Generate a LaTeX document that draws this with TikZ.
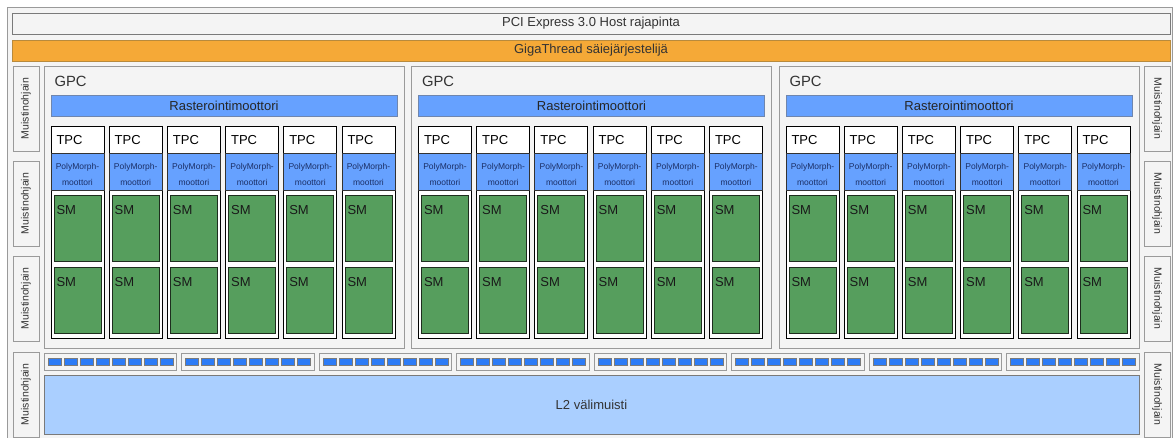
\documentclass[tikz,border=0pt]{standalone}
\usepackage{fontspec}
\setmainfont{Liberation Sans}
\definecolor{bggray}{HTML}{F4F4F4}
\definecolor{edgegray}{HTML}{9A9A9A}
\definecolor{darkgray}{HTML}{7A7A7A}
\definecolor{orangefill}{HTML}{F5A937}
\definecolor{orangeedge}{HTML}{B88A3C}
\definecolor{rasterblue}{HTML}{66A1FF}
\definecolor{rasteredge}{HTML}{6F86AE}
\definecolor{smgreen}{HTML}{569E5D}
\definecolor{smedge}{HTML}{1E2E1E}
\definecolor{cellblue}{HTML}{2C7BF6}
\definecolor{l2blue}{HTML}{AACFFF}
\definecolor{textgray}{HTML}{333333}
\definecolor{polytext}{HTML}{1B2F66}
\begin{document}
\begin{tikzpicture}[x=1pt,y=-1pt,
  every node/.style={inner sep=0pt, outer sep=0pt},
  rectbox/.style={draw, line width=1pt, anchor=north west},
  graybox/.style={rectbox, draw=edgegray, fill=bggray},
  txt/.style={text=textgray, font=\fontsize{13}{15}\selectfont},
  mctxt/.style={text=textgray, font=\fontsize{10.5}{12}\selectfont},
  rasterbox/.style={rectbox, draw=rasteredge, fill=rasterblue},
  tpcbox/.style={rectbox, draw=black, fill=white, minimum width=53, minimum height=212},
  polybox/.style={rectbox, draw=black!80, fill=rasterblue, minimum width=53, minimum height=37},
  smbox/.style={rectbox, draw=smedge, fill=smgreen, minimum width=47, minimum height=66},
  groupbox/.style={rectbox, draw=edgegray, fill=bggray, minimum width=132.5, minimum height=17},
  cellbox/.style={rectbox, draw=darkgray, fill=cellblue, minimum width=13, minimum height=7.5}
]
\useasboundingbox (0,0) rectangle (1173,437);
% outer frame
\node[graybox, minimum width=1165, minimum height=445] (frame) at (7,7) {};
% host interface and scheduler
\node[graybox, draw=darkgray, minimum width=1158, minimum height=21] (pci) at (12,13) {};
\node[txt] (pcitext) at (pci.center) {PCI Express 3.0 Host rajapinta};
\node[rectbox, draw=orangeedge, fill=orangefill, minimum width=1158, minimum height=21] (giga) at (12,40) {};
\node[txt] (gigatext) at (giga.center) {GigaThread säiejärjestelijä};
% memory controllers
\foreach \i/\y in {1/66,2/161,3/256,4/352}{
  \node[graybox, minimum width=26, minimum height=85] (mcl\i) at (13,\y) {};
  \node[mctxt, rotate=90] (mcl\i t) at (mcl\i.center) {Muistinohjain};
  \node[graybox, minimum width=26, minimum height=85] (mcr\i) at (1144,\y) {};
  \node[mctxt, rotate=-90] (mcr\i t) at (mcr\i.center) {Muistinohjain};
}
% GPCs
\foreach \g/\x in {1/44,2/411.5,3/779}{
  \node[graybox, minimum width=360, minimum height=282] (gpc\g) at (\x,66) {};
  \node[txt, font=\fontsize{14.8}{17}\selectfont, anchor=west] (gpc\g t) at (\x+10.5,81) {GPC};
  \node[rasterbox, minimum width=346, minimum height=21] (rast\g) at (\x+7,95) {};
  \node[txt, text=black!85] (rast\g t) at (rast\g.center) {Rasterointimoottori};
  \foreach \t in {0,...,5}{
    \pgfmathsetmacro{\tx}{\x+7+\t*58.2}
    \node[tpcbox] (tpc\g-\t) at (\tx,126) {};
    \node[txt, text=black, anchor=west] (tpc\g-\t t) at (\tx+5.5,140) {TPC};
    \node[polybox] (poly\g-\t) at (\tx,153) {};
    \node[font=\fontsize{8.5}{16}\selectfont, text=polytext, align=center] (poly\g-\t t) at ([yshift=-3]poly\g-\t.center) {PolyMorph-\\moottori};
    \node[smbox] (sma\g-\t) at (\tx+3,195) {};
    \node[txt, text=black!90, anchor=west] (sma\g-\t t) at (\tx+5.5,210) {SM};
    \node[smbox] (smb\g-\t) at (\tx+3,267) {};
    \node[txt, text=black!90, anchor=west] (smb\g-\t t) at (\tx+5.5,282) {SM};
  }
}
% memory partitions
\foreach \k in {0,...,7}{
  \pgfmathsetmacro{\gx}{44+\k*137.5}
  \node[groupbox] (grp\k) at (\gx,353) {};
  \foreach \s in {0,...,7}{
    \node[cellbox] (cell\k-\s) at (\gx+4+\s*16,358) {};
  }
}
% L2 cache
\node[rectbox, draw=darkgray, fill=l2blue, minimum width=1095, minimum height=59] (l2) at (44,375) {};
\node[txt] (l2t) at (l2.center) {L2 välimuisti};
\end{tikzpicture}
\end{document}
